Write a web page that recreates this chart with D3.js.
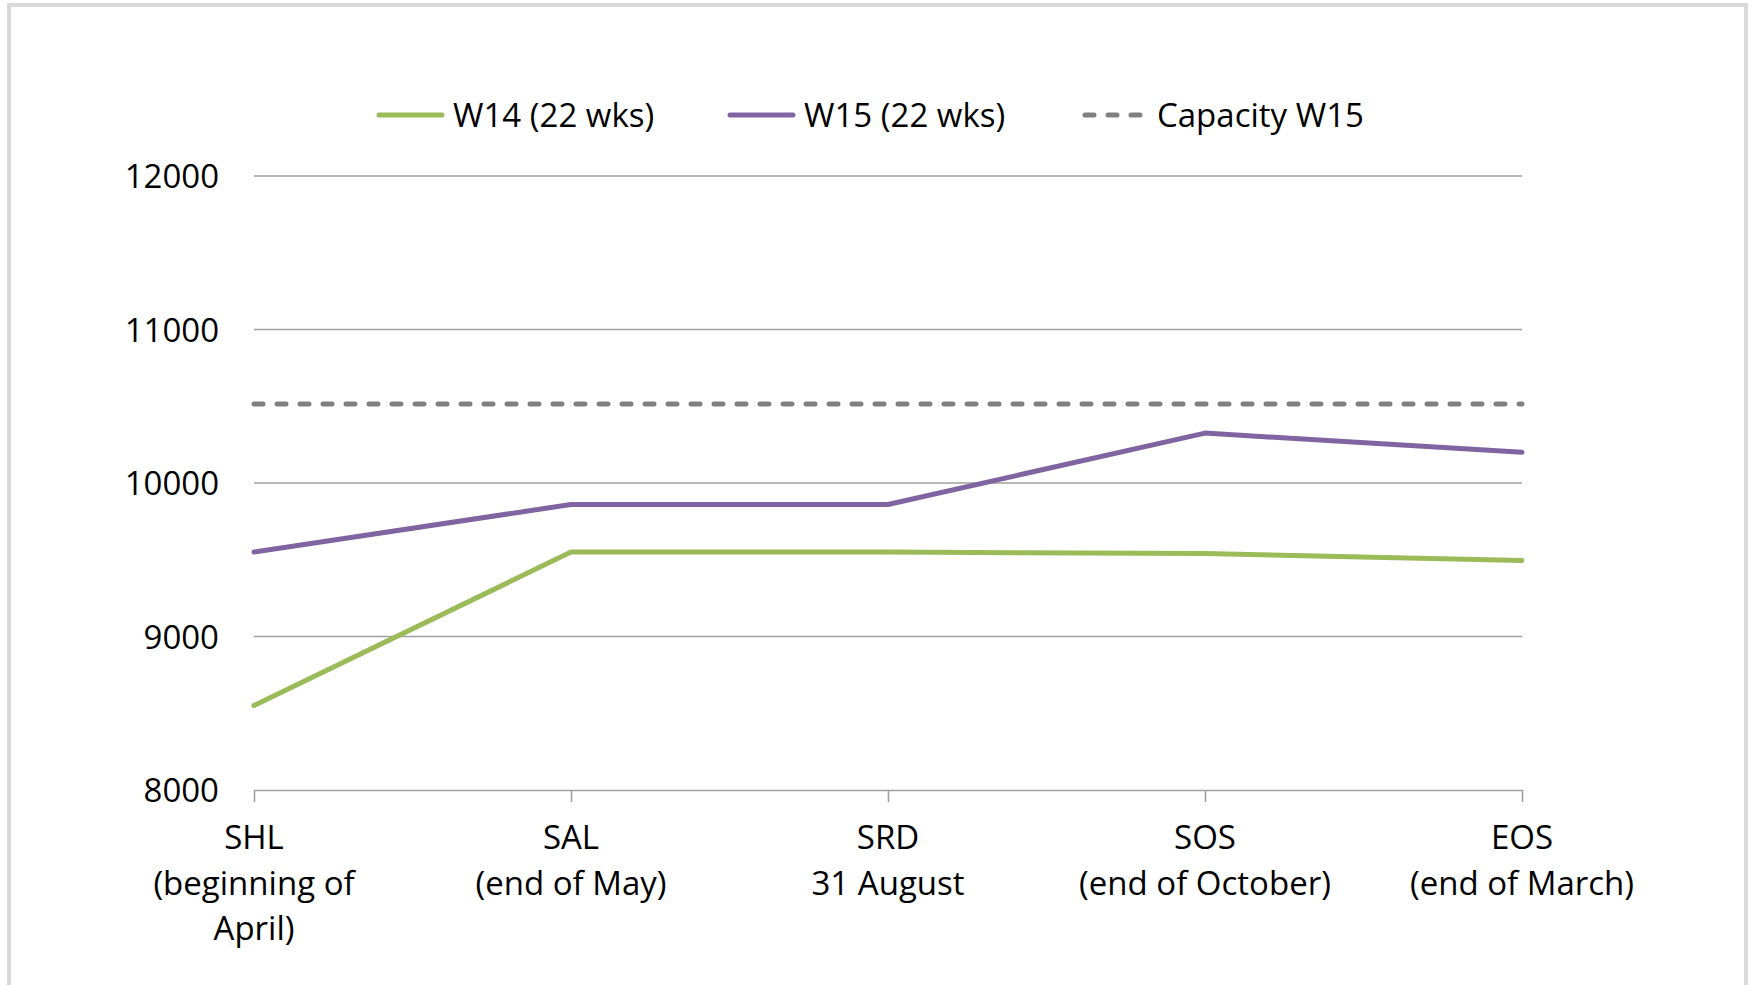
<!DOCTYPE html>
<html>
<head>
<meta charset="utf-8">
<script src="https://cdn.jsdelivr.net/npm/d3@7"></script>
<style>
  html, body { margin: 0; padding: 0; background: #fff; }
  svg { display: block; }
  text { font-family: "Open Sans", "Noto Sans", sans-serif; fill: #000; }
</style>
</head>
<body>
<svg id="chart" width="1754" height="985"></svg>
<script>
// ---- data ----
const categories = ["SHL|(beginning of|April)", "SAL|(end of May)", "SRD|31 August", "SOS|(end of October)", "EOS|(end of March)"];
const w14 = [8550, 9550, 9550, 9540, 9495];
const w15 = [9550, 9860, 9860, 10325, 10200];
const capacityW15 = [10515, 10515, 10515, 10515, 10515];
const yTicks = [8000, 9000, 10000, 11000, 12000];
const seriesNames = ["W14 (22 wks)", "W15 (22 wks)", "Capacity W15"];
const seriesColors = ["#9bbb59", "#8064a2", "#808080"];

// ---- layout ----
const W = 1754, H = 985;
const FS = "33px";
const margin = { left: 254, right: 1754 - 1522, top: 176, bottom: 985 - 790 };
const svg = d3.select("#chart");

// outer border
svg.append("rect").attr("x", 9).attr("y", 5).attr("width", 1737).attr("height", 1000)
  .attr("fill", "#fff").attr("stroke", "#d9d9d9").attr("stroke-width", 4);

const x = d3.scalePoint().domain(d3.range(categories.length)).range([margin.left, W - margin.right]);
const y = d3.scaleLinear().domain([8000, 12000]).range([H - margin.bottom, margin.top]);

// gridlines
svg.append("g").selectAll("line").data(yTicks.filter(t => t !== 8000)).join("line")
  .attr("x1", margin.left).attr("x2", W - margin.right)
  .attr("y1", d => y(d)).attr("y2", d => y(d))
  .attr("stroke", "#a0a0a0").attr("stroke-width", 1.6);

// y axis labels
const yAxis = d3.axisLeft(y).tickValues(yTicks).tickSize(0).tickPadding(0).tickFormat(d3.format("d"));
const gy = svg.append("g").attr("transform", `translate(${margin.left - 35},0)`).call(yAxis);
gy.select(".domain").remove();
gy.selectAll("text").style("font-size", FS).style("font-family", '"Open Sans", sans-serif').attr("fill", "#000").attr("dy", "0.36em");

// x axis
const xAxis = d3.axisBottom(x).tickSize(12).tickSizeOuter(0).tickFormat(() => "");
const gx = svg.append("g").attr("transform", `translate(0,${y(8000)})`).call(xAxis);
gx.select(".domain").attr("stroke", "#a0a0a0").attr("stroke-width", 1.6);
gx.selectAll(".tick line").attr("stroke", "#a0a0a0").attr("stroke-width", 1.6);

const xl = svg.append("g");
categories.forEach((c, i) => {
  const lines = c.split("|");
  const t = xl.append("text").attr("x", x(i)).attr("y", 849).attr("text-anchor", "middle").style("font-size", FS);
  lines.forEach((ln, j) => {
    t.append("tspan").attr("x", x(i)).attr("dy", j === 0 ? 0 : 45.5).text(ln);
  });
});

// lines
const line = d3.line().x((d, i) => x(i)).y(d => y(d));
svg.append("path").datum(capacityW15).attr("d", line).attr("fill", "none")
  .attr("stroke", seriesColors[2]).attr("stroke-width", 5).attr("stroke-dasharray", "9,14").attr("stroke-linecap", "round");
svg.append("path").datum(w14).attr("d", line).attr("fill", "none")
  .attr("stroke", seriesColors[0]).attr("stroke-width", 5).attr("stroke-linecap", "round").attr("stroke-linejoin", "round");
svg.append("path").datum(w15).attr("d", line).attr("fill", "none")
  .attr("stroke", seriesColors[1]).attr("stroke-width", 5).attr("stroke-linecap", "round").attr("stroke-linejoin", "round");

// legend
const legendX = [379, 730, 1083];
const legendY = 115;
seriesNames.forEach((name, i) => {
  const g = svg.append("g");
  const ln = g.append("line").attr("x1", legendX[i]).attr("x2", legendX[i] + 63)
    .attr("y1", legendY).attr("y2", legendY)
    .attr("stroke", seriesColors[i]).attr("stroke-width", 5).attr("stroke-linecap", "round");
  if (i === 2) ln.attr("stroke-dasharray", "9,14").attr("x1", legendX[i] + 2);
  g.append("text").attr("x", legendX[i] + 74).attr("y", legendY).attr("dy", "0.36em")
    .style("font-size", FS).text(name);
});
</script>
</body>
</html>
